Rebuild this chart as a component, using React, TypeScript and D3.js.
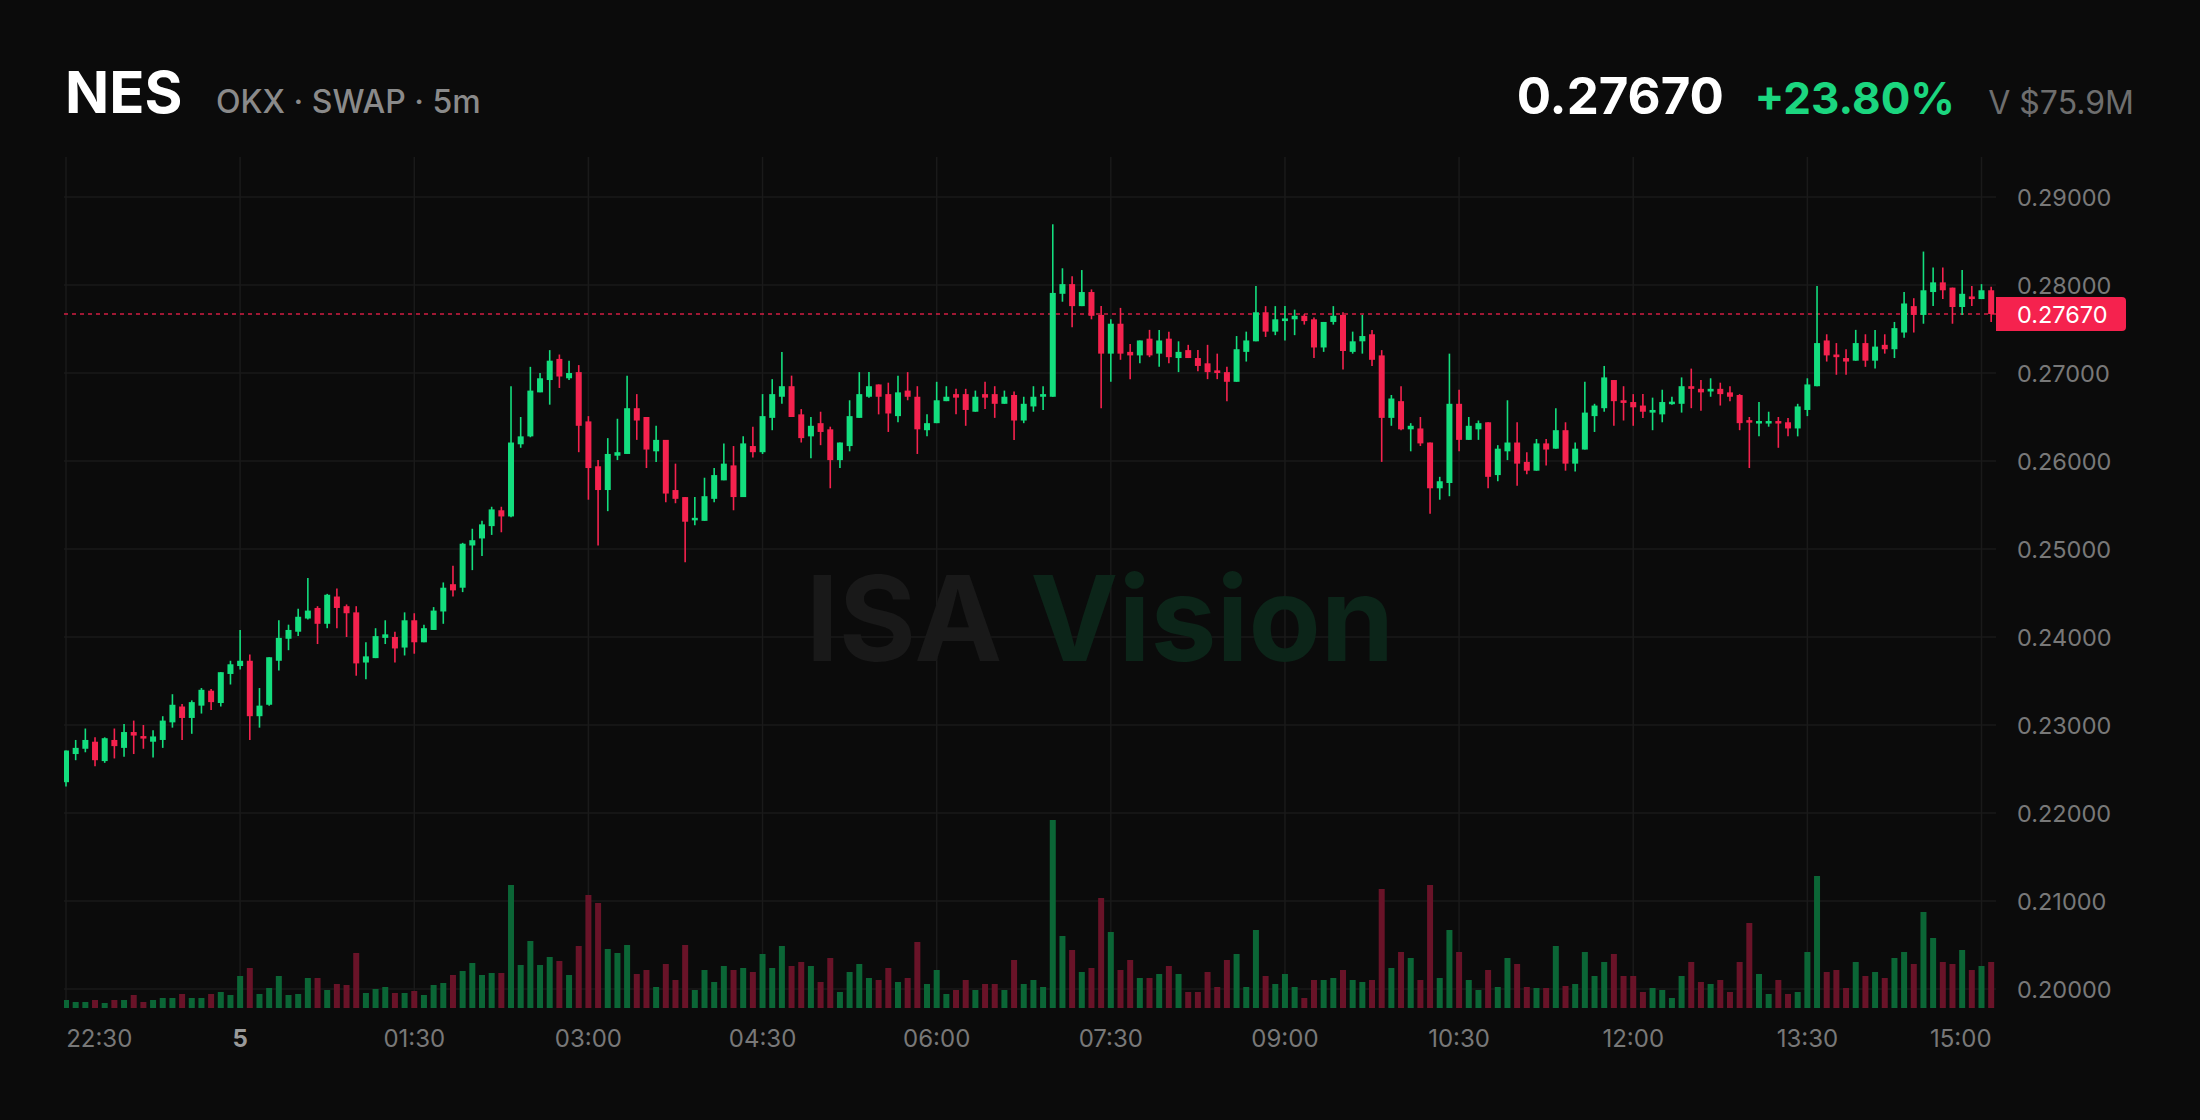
import React, { useEffect } from "react";
import * as d3 from "d3";

// ---------- data (5m candles, 22:30 -> 15:05) ----------
const opens = [
  0.2235, 0.2267, 0.2273, 0.2281, 0.2259, 0.2283, 0.2274, 0.2292, 0.2287, 0.2281,
  0.2283, 0.2303, 0.2321, 0.2308, 0.2322, 0.2339, 0.2325, 0.2358, 0.2367, 0.2373,
  0.2310, 0.2323, 0.2373, 0.2398, 0.2406, 0.2421, 0.2433, 0.2415, 0.2446, 0.2435,
  0.2428, 0.2371, 0.2376, 0.2399, 0.2400, 0.2388, 0.2419, 0.2394, 0.2408, 0.2429,
  0.2460, 0.2456, 0.2504, 0.2512, 0.2526, 0.2544, 0.2537, 0.2619, 0.2628, 0.2678,
  0.2692, 0.2716, 0.2694, 0.2701, 0.2645, 0.2594, 0.2567, 0.2606, 0.2608, 0.2660,
  0.2650, 0.2611, 0.2624, 0.2567, 0.2559, 0.2533, 0.2532, 0.2557, 0.2578, 0.2595,
  0.2559, 0.2617, 0.2610, 0.2649, 0.2673, 0.2685, 0.2653, 0.2628, 0.2643, 0.2636,
  0.2601, 0.2617, 0.2649, 0.2673, 0.2687, 0.2676, 0.2651, 0.2680, 0.2673, 0.2635,
  0.2643, 0.2668, 0.2676, 0.2676, 0.2656, 0.2676, 0.2676, 0.2665, 0.2675, 0.2646,
  0.2662, 0.2673, 0.2673, 0.2790, 0.2801, 0.2776, 0.2792, 0.2766, 0.2722, 0.2756,
  0.2724, 0.2720, 0.2739, 0.2722, 0.2739, 0.2717, 0.2726, 0.2717, 0.2711, 0.2703,
  0.2701, 0.2690, 0.2724, 0.2736, 0.2769, 0.2747, 0.2759, 0.2761, 0.2765, 0.2761,
  0.2729, 0.2758, 0.2766, 0.2724, 0.2736, 0.2744, 0.2720, 0.2649, 0.2668, 0.2636,
  0.2637, 0.2621, 0.2569, 0.2575, 0.2665, 0.2624, 0.2636, 0.2644, 0.2584, 0.2611,
  0.2621, 0.2599, 0.2589, 0.2620, 0.2614, 0.2635, 0.2597, 0.2613, 0.2651, 0.2660,
  0.2692, 0.2669, 0.2667, 0.2663, 0.2655, 0.2653, 0.2665, 0.2665, 0.2685, 0.2682,
  0.2679, 0.2682, 0.2678, 0.2675, 0.2646, 0.2643, 0.2643, 0.2645, 0.2644, 0.2637,
  0.2658, 0.2685, 0.2737, 0.2721, 0.2717, 0.2714, 0.2734, 0.2714, 0.2732, 0.2727,
  0.2746, 0.2776, 0.2766, 0.2792, 0.2803, 0.2797, 0.2775, 0.2787, 0.2784, 0.2794,
];
const highs = [
  0.2271, 0.2283, 0.2296, 0.2286, 0.2286, 0.2296, 0.2301, 0.2305, 0.2300, 0.2294,
  0.2310, 0.2335, 0.2324, 0.2328, 0.2342, 0.2341, 0.2360, 0.2373, 0.2408, 0.2380,
  0.2342, 0.2377, 0.2419, 0.2414, 0.2432, 0.2467, 0.2435, 0.2449, 0.2455, 0.2437,
  0.2435, 0.2394, 0.2410, 0.2419, 0.2406, 0.2428, 0.2427, 0.2414, 0.2434, 0.2462,
  0.2481, 0.2507, 0.2523, 0.2532, 0.2548, 0.2548, 0.2685, 0.2650, 0.2707, 0.2700,
  0.2726, 0.2721, 0.2714, 0.2709, 0.2651, 0.2601, 0.2626, 0.2648, 0.2697, 0.2676,
  0.2650, 0.2640, 0.2624, 0.2597, 0.2559, 0.2559, 0.2581, 0.2592, 0.2620, 0.2617,
  0.2628, 0.2639, 0.2676, 0.2693, 0.2724, 0.2697, 0.2659, 0.2650, 0.2656, 0.2639,
  0.2621, 0.2669, 0.2701, 0.2701, 0.2687, 0.2689, 0.2697, 0.2701, 0.2685, 0.2653,
  0.2690, 0.2685, 0.2682, 0.2682, 0.2680, 0.2690, 0.2685, 0.2680, 0.2679, 0.2673,
  0.2685, 0.2685, 0.2869, 0.2819, 0.2810, 0.2817, 0.2795, 0.2776, 0.2761, 0.2774,
  0.2733, 0.2737, 0.2749, 0.2749, 0.2747, 0.2736, 0.2732, 0.2726, 0.2732, 0.2722,
  0.2707, 0.2742, 0.2747, 0.2799, 0.2776, 0.2776, 0.2776, 0.2772, 0.2767, 0.2763,
  0.2758, 0.2776, 0.2769, 0.2747, 0.2766, 0.2749, 0.2726, 0.2675, 0.2685, 0.2643,
  0.2650, 0.2621, 0.2582, 0.2722, 0.2681, 0.2650, 0.2646, 0.2644, 0.2618, 0.2669,
  0.2644, 0.2610, 0.2625, 0.2625, 0.2660, 0.2644, 0.2621, 0.2690, 0.2665, 0.2708,
  0.2692, 0.2685, 0.2676, 0.2676, 0.2672, 0.2681, 0.2673, 0.2695, 0.2705, 0.2692,
  0.2694, 0.2689, 0.2685, 0.2676, 0.2650, 0.2667, 0.2656, 0.2650, 0.2649, 0.2665,
  0.2694, 0.2799, 0.2744, 0.2734, 0.2727, 0.2749, 0.2744, 0.2749, 0.2744, 0.2758,
  0.2792, 0.2785, 0.2838, 0.2820, 0.2820, 0.2797, 0.2817, 0.2799, 0.2801, 0.2798,
];
const lows = [
  0.2230, 0.2260, 0.2269, 0.2253, 0.2257, 0.2262, 0.2264, 0.2267, 0.2273, 0.2263,
  0.2274, 0.2297, 0.2283, 0.2290, 0.2313, 0.2317, 0.2321, 0.2346, 0.2363, 0.2283,
  0.2297, 0.2322, 0.2362, 0.2385, 0.2401, 0.2420, 0.2392, 0.2410, 0.2410, 0.2400,
  0.2356, 0.2352, 0.2376, 0.2392, 0.2371, 0.2379, 0.2381, 0.2394, 0.2408, 0.2415,
  0.2446, 0.2451, 0.2476, 0.2492, 0.2516, 0.2519, 0.2536, 0.2615, 0.2627, 0.2678,
  0.2664, 0.2683, 0.2692, 0.2610, 0.2556, 0.2504, 0.2543, 0.2601, 0.2608, 0.2624,
  0.2592, 0.2599, 0.2553, 0.2552, 0.2485, 0.2527, 0.2532, 0.2553, 0.2578, 0.2544,
  0.2559, 0.2604, 0.2608, 0.2635, 0.2665, 0.2650, 0.2621, 0.2603, 0.2618, 0.2569,
  0.2592, 0.2611, 0.2649, 0.2672, 0.2653, 0.2633, 0.2644, 0.2669, 0.2608, 0.2628,
  0.2643, 0.2668, 0.2653, 0.2640, 0.2656, 0.2659, 0.2649, 0.2665, 0.2624, 0.2643,
  0.2656, 0.2658, 0.2673, 0.2781, 0.2752, 0.2776, 0.2761, 0.2660, 0.2690, 0.2715,
  0.2693, 0.2711, 0.2718, 0.2707, 0.2711, 0.2701, 0.2717, 0.2702, 0.2693, 0.2693,
  0.2668, 0.2690, 0.2713, 0.2736, 0.2741, 0.2743, 0.2737, 0.2743, 0.2755, 0.2717,
  0.2724, 0.2755, 0.2704, 0.2722, 0.2722, 0.2708, 0.2599, 0.2640, 0.2635, 0.2611,
  0.2617, 0.2540, 0.2556, 0.2560, 0.2611, 0.2624, 0.2624, 0.2569, 0.2577, 0.2601,
  0.2572, 0.2585, 0.2589, 0.2595, 0.2614, 0.2589, 0.2588, 0.2613, 0.2633, 0.2656,
  0.2640, 0.2646, 0.2640, 0.2649, 0.2635, 0.2644, 0.2664, 0.2655, 0.2660, 0.2657,
  0.2673, 0.2663, 0.2668, 0.2635, 0.2592, 0.2628, 0.2639, 0.2615, 0.2628, 0.2628,
  0.2651, 0.2685, 0.2713, 0.2698, 0.2698, 0.2714, 0.2707, 0.2705, 0.2722, 0.2717,
  0.2740, 0.2746, 0.2756, 0.2776, 0.2784, 0.2756, 0.2766, 0.2776, 0.2784, 0.2758,
];
const closes = [
  0.2271, 0.2274, 0.2283, 0.2260, 0.2285, 0.2276, 0.2292, 0.2288, 0.2285, 0.2287,
  0.2305, 0.2323, 0.2308, 0.2326, 0.2340, 0.2326, 0.2360, 0.2369, 0.2373, 0.2310,
  0.2322, 0.2377, 0.2399, 0.2408, 0.2423, 0.2430, 0.2415, 0.2448, 0.2433, 0.2427,
  0.2370, 0.2378, 0.2401, 0.2403, 0.2387, 0.2419, 0.2394, 0.2410, 0.2430, 0.2456,
  0.2453, 0.2506, 0.2510, 0.2528, 0.2545, 0.2537, 0.2621, 0.2628, 0.2680, 0.2694,
  0.2714, 0.2696, 0.2700, 0.2640, 0.2592, 0.2567, 0.2608, 0.2610, 0.2660, 0.2646,
  0.2613, 0.2624, 0.2563, 0.2557, 0.2531, 0.2535, 0.2560, 0.2584, 0.2597, 0.2559,
  0.2620, 0.2610, 0.2651, 0.2676, 0.2685, 0.2650, 0.2626, 0.2640, 0.2633, 0.2601,
  0.2621, 0.2651, 0.2676, 0.2685, 0.2673, 0.2654, 0.2678, 0.2673, 0.2636, 0.2643,
  0.2669, 0.2673, 0.2672, 0.2658, 0.2673, 0.2672, 0.2665, 0.2673, 0.2646, 0.2665,
  0.2673, 0.2676, 0.2791, 0.2801, 0.2776, 0.2792, 0.2765, 0.2722, 0.2756, 0.2722,
  0.2720, 0.2737, 0.2720, 0.2737, 0.2718, 0.2724, 0.2717, 0.2708, 0.2701, 0.2700,
  0.2690, 0.2727, 0.2737, 0.2769, 0.2747, 0.2761, 0.2762, 0.2765, 0.2759, 0.2729,
  0.2758, 0.2765, 0.2725, 0.2736, 0.2742, 0.2715, 0.2649, 0.2671, 0.2636, 0.2640,
  0.2620, 0.2569, 0.2577, 0.2665, 0.2624, 0.2640, 0.2643, 0.2582, 0.2614, 0.2621,
  0.2597, 0.2589, 0.2620, 0.2613, 0.2635, 0.2597, 0.2614, 0.2655, 0.2663, 0.2695,
  0.2668, 0.2666, 0.2661, 0.2656, 0.2658, 0.2667, 0.2667, 0.2685, 0.2682, 0.2678,
  0.2682, 0.2676, 0.2673, 0.2643, 0.2644, 0.2645, 0.2645, 0.2643, 0.2637, 0.2662,
  0.2687, 0.2734, 0.2720, 0.2718, 0.2713, 0.2734, 0.2714, 0.2730, 0.2727, 0.2751,
  0.2779, 0.2766, 0.2794, 0.2803, 0.2794, 0.2775, 0.2790, 0.2784, 0.2794, 0.2767,
];
// volume per candle (relative units)
const volumes = [
  8, 6, 6, 8, 5, 8, 8, 13, 6, 8,
  10, 10, 14, 10, 10, 14, 16, 13, 32, 40,
  14, 20, 32, 13, 14, 30, 30, 18, 24, 23,
  55, 15, 19, 21, 15, 15, 17, 13, 23, 25,
  33, 37, 45, 33, 35, 35, 123, 43, 67, 43,
  51, 47, 33, 62, 113, 105, 59, 55, 63, 34,
  38, 21, 44, 28, 63, 18, 38, 26, 42, 38,
  40, 36, 54, 40, 62, 42, 46, 42, 26, 50,
  16, 36, 44, 30, 28, 40, 26, 30, 66, 24,
  38, 14, 18, 28, 18, 24, 24, 18, 48, 24,
  28, 21, 188, 72, 58, 36, 40, 110, 76, 38,
  48, 30, 30, 34, 42, 34, 16, 16, 36, 21,
  48, 54, 21, 78, 32, 24, 34, 21, 10, 28,
  28, 30, 38, 28, 26, 28, 119, 40, 56, 50,
  28, 123, 30, 78, 56, 28, 18, 38, 21, 50,
  44, 21, 20, 20, 62, 22, 24, 56, 32, 46,
  54, 32, 32, 16, 20, 18, 10, 32, 46, 26,
  24, 28, 16, 46, 85, 34, 14, 28, 14, 16,
  56, 132, 36, 38, 20, 46, 32, 36, 30, 50,
  56, 44, 96, 70, 46, 44, 58, 38, 42, 46,
];
const timeTickLabels = ["22:30", "5", "01:30", "03:00", "04:30", "06:00", "07:30", "09:00", "10:30", "12:00", "13:30", "15:00"];
const candlesPerTick = 18; // 90 minutes of 5m bars
const priceTicks = [0.2, 0.21, 0.22, 0.23, 0.24, 0.25, 0.26, 0.27, 0.28, 0.29];
const lastPrice = 0.2767;
const symbol = "NES";
const venue = "OKX · SWAP · 5m";
const priceText = "0.27670";
const changeText = "+23.80%";
const volText = "V $75.9M";

// ---------- style ----------
const W = 2200;
const H = 1120;
const BG = "#0b0b0b";
const UP = "#13de7e";
const DOWN = "#f5224e";
const VOL_UP = "#0b6636";
const VOL_DOWN = "#691328";
const GRID = "#1a1a1a";
const AXIS_TXT = "#787878";
const FONT = "Inter, 'Noto Sans', 'DejaVu Sans', sans-serif";

export default function App() {
  useEffect(() => {
    document.body.style.margin = "0";
    document.body.style.background = BG;
    document.body.style.overflow = "hidden";
  }, []);

  const plotLeft = 64;
  const plotRight = 1996;
  const plotTop = 157;
  const plotBottom = 1008;

  const x = d3.scaleLinear().domain([0, 198]).range([66, 1981.5]);
  const y = d3.scaleLinear().domain([0.2, 0.29]).range([989, 197]);
  const maxVol = d3.max(volumes) as number;
  const v = d3.scaleLinear().domain([0, maxVol]).range([plotBottom, 820]);
  const step = x(1) - x(0);
  const bodyW = Math.round(step * 0.62);

  const candles = closes.map((c, i) => ({ i, o: opens[i], h: highs[i], l: lows[i], c, vol: volumes[i] }));
  const fmtPrice = d3.format(".5f");

  const axisFont = 23.5;
  const tickData = timeTickLabels.map((label, k) => {
    const idx = k * candlesPerTick;
    const xc = x(idx);
    const w = label.length * axisFont * 0.6;
    const xl = Math.max(plotLeft + w / 2, Math.min(plotRight - w / 2, xc));
    return { label, xc, xl, major: !label.includes(":") };
  });

  const yLast = y(lastPrice);

  return (
    <svg
      width={W}
      height={H}
      viewBox={`0 0 ${W} ${H}`}
      style={{ position: "absolute", left: 0, top: 0, display: "block", background: BG }}
      fontFamily={FONT}
    >
      <rect x={0} y={0} width={W} height={H} fill={BG} />
      <defs>
        <clipPath id="plotClip">
          <rect x={plotLeft} y={plotTop} width={plotRight - plotLeft} height={plotBottom - plotTop} />
        </clipPath>
      </defs>

      {/* header */}
      <text x={65} y={113} fill="#ffffff" fontSize={58} fontWeight={700}>{symbol}</text>
      <text x={216} y={113} fill="#8a8a8a" fontSize={32} fontWeight={500}>{venue}</text>
      <text x={1724} y={114} fill="#ffffff" fontSize={51} fontWeight={700} textAnchor="end">{priceText}</text>
      <text x={1955} y={114} fill="#1bd67f" fontSize={44} fontWeight={700} textAnchor="end">{changeText}</text>
      <text x={2134} y={114} fill="#6e6e6e" fontSize={32} fontWeight={400} textAnchor="end">{volText}</text>

      {/* grid */}
      <g>
        {priceTicks.map((p) => (
          <line key={"h" + p} x1={plotLeft} x2={plotRight} y1={y(p)} y2={y(p)} stroke={GRID} strokeWidth={1.5} />
        ))}
        {tickData.map((t) => (
          <line key={"v" + t.label} x1={t.xc} x2={t.xc} y1={plotTop} y2={plotBottom} stroke={GRID} strokeWidth={1.5} />
        ))}
      </g>

      {/* watermark */}
      <text x={1100} y={661} fontSize={118} fontWeight={700} textAnchor="middle" letterSpacing={0}>
        <tspan fill="#191919">ISA </tspan>
        <tspan fill="#0c2519">Vision</tspan>
      </text>

      <g clipPath="url(#plotClip)">
        {/* volume */}
        {candles.map((d) => (
          <rect
            key={"vol" + d.i}
            x={x(d.i) - bodyW / 2}
            y={v(d.vol)}
            width={bodyW}
            height={plotBottom - v(d.vol)}
            fill={d.c >= d.o ? VOL_UP : VOL_DOWN}
          />
        ))}

        {/* last price line */}
        <line x1={plotLeft} x2={plotRight} y1={yLast} y2={yLast} stroke={DOWN} strokeWidth={1.5} strokeDasharray="4 4" opacity={0.85} />

        {/* candles */}
        {candles.map((d) => {
          const col = d.c >= d.o ? UP : DOWN;
          const cx = x(d.i);
          const top = y(Math.max(d.o, d.c));
          const bot = y(Math.min(d.o, d.c));
          const bh = Math.max(2.5, bot - top);
          return (
            <g key={"c" + d.i}>
              <line x1={cx} x2={cx} y1={y(d.h)} y2={y(d.l)} stroke={col} strokeWidth={1.6} />
              <rect x={cx - bodyW / 2} y={bh > bot - top ? (top + bot) / 2 - bh / 2 : top} width={bodyW} height={bh} fill={col} />
            </g>
          );
        })}
      </g>

      {/* price axis */}
      <g fontSize={axisFont} fill={AXIS_TXT}>
        {priceTicks.map((p) => (
          <text key={"pt" + p} x={2017} y={y(p)} dominantBaseline="central">{fmtPrice(p)}</text>
        ))}
      </g>

      {/* last price tag */}
      <path
        d={`M${plotRight},${yLast - 17} H${2122} Q${2126},${yLast - 17} ${2126},${yLast - 13} V${yLast + 13} Q${2126},${yLast + 17} ${2122},${yLast + 17} H${plotRight} Z`}
        fill={DOWN}
      />
      <text x={2017} y={yLast} fontSize={axisFont} fill="#ffffff" dominantBaseline="central">{fmtPrice(lastPrice)}</text>

      {/* time axis */}
      <g fontSize={24}>
        {tickData.map((t) => (
          <text
            key={"tt" + t.label}
            x={t.xl}
            y={1038}
            textAnchor="middle"
            dominantBaseline="central"
            fill={t.major ? "#9a9a9a" : AXIS_TXT}
            fontWeight={t.major ? 700 : 400}
          >
            {t.label}
          </text>
        ))}
      </g>
    </svg>
  );
}
